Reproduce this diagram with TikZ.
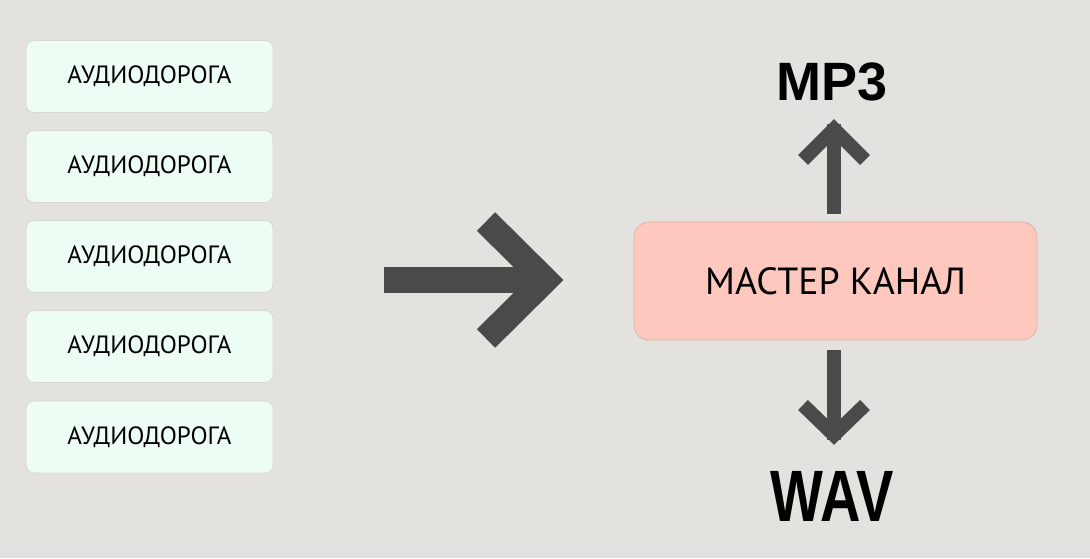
\documentclass[tikz,border=0pt]{standalone}
\usepackage{fontspec}
\setmainfont{PT Sans}
\newfontfamily\fmtfont{Liberation Sans}
\usepackage{tikz}
\usetikzlibrary{calc}

\definecolor{bgcol}{HTML}{E3E2DE}
\definecolor{trackfill}{HTML}{EEFDF4}
\definecolor{trackline}{HTML}{D6D8D4}
\definecolor{masterfill}{HTML}{FEC8BF}
\definecolor{masterline}{HTML}{DDB3AB}
\definecolor{arrowcol}{HTML}{4A4A4A}

\begin{document}
\begin{tikzpicture}[x=1pt,y=-1pt]
    \tikzstyle{track}=[rectangle, rounded corners=8pt, draw=trackline, fill=trackfill,
    line width=0.8pt, minimum width=247pt, minimum height=72pt, inner sep=0pt,
    font=\fontsize{25}{25}\selectfont]
    \tikzstyle{fat}=[draw=arrowcol, line width=26pt, line join=miter, line cap=butt]
    \tikzstyle{thin}=[draw=arrowcol, line width=14pt, line join=miter, line cap=butt]

    \fill[bgcol] (0,0) rectangle (1090,558);
    \useasboundingbox (0,0) rectangle (1090,558);

    % tracks
    \foreach \i/\y in {1/76.5,2/166.5,3/256.5,4/346.5,5/437}
        \node[track](t\i) at (149.5,\y){АУДИОДОРОГА};

    % big arrow
    \coordinate (bigtail) at (384,280);
    \coordinate (bigtip) at (545,280);
    \draw[fat] (bigtail) -- ($(bigtip)+(6,0)$);
    \draw[fat] ($(bigtip)+(-59,-58.5)$) -- (bigtip) -- ($(bigtip)+(-59,58.5)$);

    \node[rectangle, rounded corners=15pt, draw=masterline, fill=masterfill,
    line width=0.8pt, minimum width=403pt, minimum height=118pt,
    font=\fontsize{37.8}{38}\selectfont](master) at (835.5,281){МАСТЕР КАНАЛ};

    \node[anchor=base, inner sep=0pt, font=\fmtfont\bfseries\fontsize{54}{54}\selectfont](mp3) at (832.5,100){MP3};
    \node[anchor=base, inner sep=0pt, font=\fmtfont\bfseries\fontsize{56}{56}\selectfont](wav) at (832,521){\scalebox{1}[1.3]{WAV}};

    % up and down
    \coordinate (uptip) at (834,129);
    \coordinate (downtip) at (834,435);
    \draw[thin] ([yshift=8pt]master.north -| uptip) -- ($(uptip)+(0,-5)$);
    \draw[thin] ($(uptip)+(-31,31)$) -- (uptip) -- ($(uptip)+(31,31)$);
    \draw[thin] ([yshift=-10pt]master.south -| downtip) -- ($(downtip)+(0,5)$);
    \draw[thin] ($(downtip)+(-31,-30)$) -- (downtip) -- ($(downtip)+(31,-30)$);
\end{tikzpicture}
\end{document}
